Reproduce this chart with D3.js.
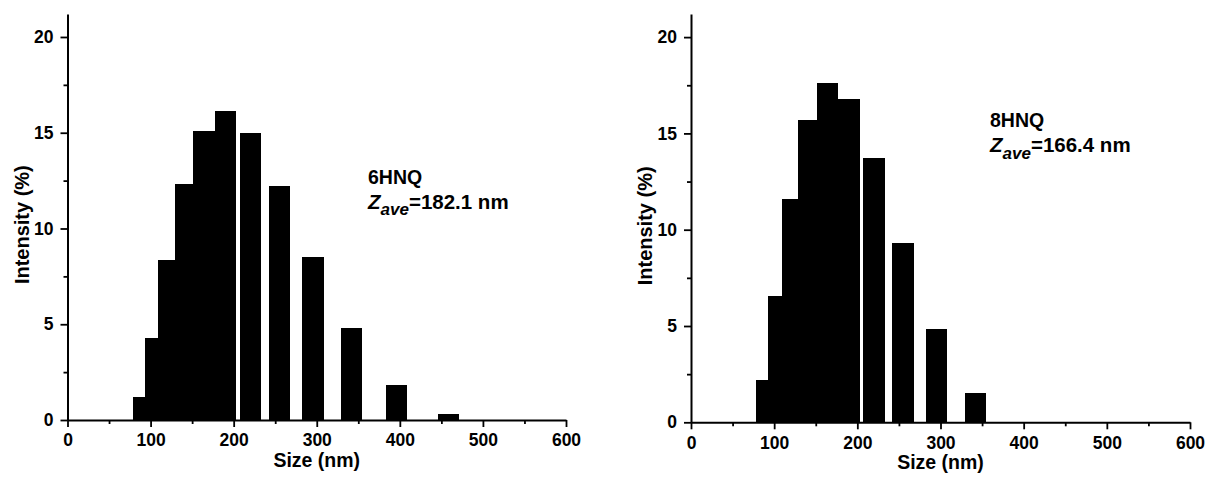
<!DOCTYPE html>
<html>
<head>
<meta charset="utf-8">
<script src="https://cdn.jsdelivr.net/npm/d3@7"></script>
<style>
  html, body { margin: 0; padding: 0; background: #ffffff; }
  svg { display: block; }
  text { font-family: "Liberation Sans", Arial, sans-serif; font-weight: bold; fill: #000; }
</style>
</head>
<body>
<svg id="chart" width="1209" height="478"></svg>
<script>
// Hydrodynamic size bins (nm) of the DLS intensity distribution
const sizeBins = [91.28, 105.7, 122.4, 141.8, 164.2, 190.1, 220.2, 255.0, 295.3, 342.0, 396.1, 458.7];

// Intensity (%) per bin
const intensity6HNQ = [1.22, 4.26, 8.35, 12.31, 15.09, 16.12, 15.01, 12.21, 8.52, 4.78, 1.85, 0.30];
const intensity8HNQ = [2.20, 6.55, 11.60, 15.70, 17.60, 16.80, 13.70, 9.30, 4.85, 1.50, 0, 0];

// Axis ticks
const xMajorTicks = [0, 100, 200, 300, 400, 500, 600];
const xMinorTicks = [50, 150, 250, 350, 450, 550];
const yMajorTicks = [0, 5, 10, 15, 20];
const yMinorTicks = [2.5, 7.5, 12.5, 17.5];

// Sample names and z-average diameters
const sampleNames = ["6HNQ", "8HNQ"];
const zAverages = ["182.1", "166.4"];

const BAR_WIDTH_NM = 26;

const svg = d3.select("#chart");

function drawPanel(cfg) {
  const g = svg.append("g");
  const x = d3.scaleLinear().domain([0, 600]).range([cfg.x0, cfg.x1]);
  const y = d3.scaleLinear().domain([0, 21.2]).range([cfg.y0, cfg.yTop]);

  // Bars, drawn in ascending size so each one sits over the previous
  g.append("g")
    .attr("shape-rendering", "crispEdges")
    .selectAll("rect")
    .data(cfg.sizes.map((s, i) => ({ s, v: cfg.values[i] })).filter(d => d.v > 0))
    .join("rect")
    .attr("x", d => x(d.s - BAR_WIDTH_NM / 2))
    .attr("width", d => x(d.s + BAR_WIDTH_NM / 2) - x(d.s - BAR_WIDTH_NM / 2))
    .attr("y", d => y(d.v))
    .attr("height", d => y(0) - y(d.v))
    .attr("fill", "#000");

  // X axis: minor ticks then labelled majors
  g.append("g")
    .attr("transform", `translate(0,${cfg.y0})`)
    .call(d3.axisBottom(x).tickValues(xMinorTicks).tickSize(4).tickFormat(""))
    .call(a => a.select(".domain").remove())
    .call(a => a.selectAll("line").attr("stroke-width", 1.8));

  g.append("g")
    .attr("transform", `translate(0,${cfg.y0})`)
    .call(d3.axisBottom(x).tickValues(xMajorTicks).tickSize(7).tickSizeOuter(0).tickPadding(7).tickFormat(d3.format("d")))
    .call(a => a.select(".domain").attr("stroke-width", 2))
    .call(a => a.selectAll("line").attr("stroke-width", 1.8))
    .call(a => a.selectAll("text").attr("font-size", 17.5).attr("font-family", null));

  // Y axis
  g.append("g")
    .attr("transform", `translate(${cfg.x0},0)`)
    .call(d3.axisLeft(y).tickValues(yMinorTicks).tickSize(4).tickFormat(""))
    .call(a => a.select(".domain").remove())
    .call(a => a.selectAll("line").attr("stroke-width", 1.8));

  g.append("g")
    .attr("transform", `translate(${cfg.x0},0)`)
    .call(d3.axisLeft(y).tickValues(yMajorTicks).tickSize(7).tickSizeOuter(0).tickPadding(7).tickFormat(d3.format("d")))
    .call(a => a.select(".domain").attr("stroke-width", 2))
    .call(a => a.selectAll("line").attr("stroke-width", 1.8))
    .call(a => a.selectAll("text").attr("font-size", 17.5).attr("font-family", null));

  // Axis titles
  g.append("text")
    .attr("x", (cfg.x0 + cfg.x1) / 2)
    .attr("y", cfg.y0 + 47)
    .attr("text-anchor", "middle")
    .attr("font-size", 19.5)
    .text("Size (nm)");

  g.append("text")
    .attr("transform", `translate(${cfg.x0 - 39},${y(10.2)}) rotate(-90)`)
    .attr("text-anchor", "middle")
    .attr("font-size", 20)
    .text("Intensity (%)");

  // Sample annotation
  const ax = cfg.labelX, ay = cfg.labelY;
  g.append("text")
    .attr("x", ax).attr("y", ay)
    .attr("font-size", 19.5)
    .text(cfg.name);

  const z = g.append("text")
    .attr("x", ax).attr("y", ay + 25)
    .attr("font-size", 20.5);
  z.append("tspan").attr("font-style", "italic").text("Z");
  z.append("tspan").attr("font-style", "italic").attr("font-size", 17).attr("dy", 6.5).text("ave");
  z.append("tspan").attr("dy", -6.5).text(`=${cfg.zave} nm`);
}

drawPanel({
  x0: 67.5, x1: 566, y0: 420, yTop: 14,
  sizes: sizeBins, values: intensity6HNQ,
  name: sampleNames[0], zave: zAverages[0],
  labelX: 368, labelY: 183.5
});

drawPanel({
  x0: 691, x1: 1190, y0: 422.3, yTop: 14,
  sizes: sizeBins, values: intensity8HNQ,
  name: sampleNames[1], zave: zAverages[1],
  labelX: 990, labelY: 127
});
</script>
</body>
</html>
